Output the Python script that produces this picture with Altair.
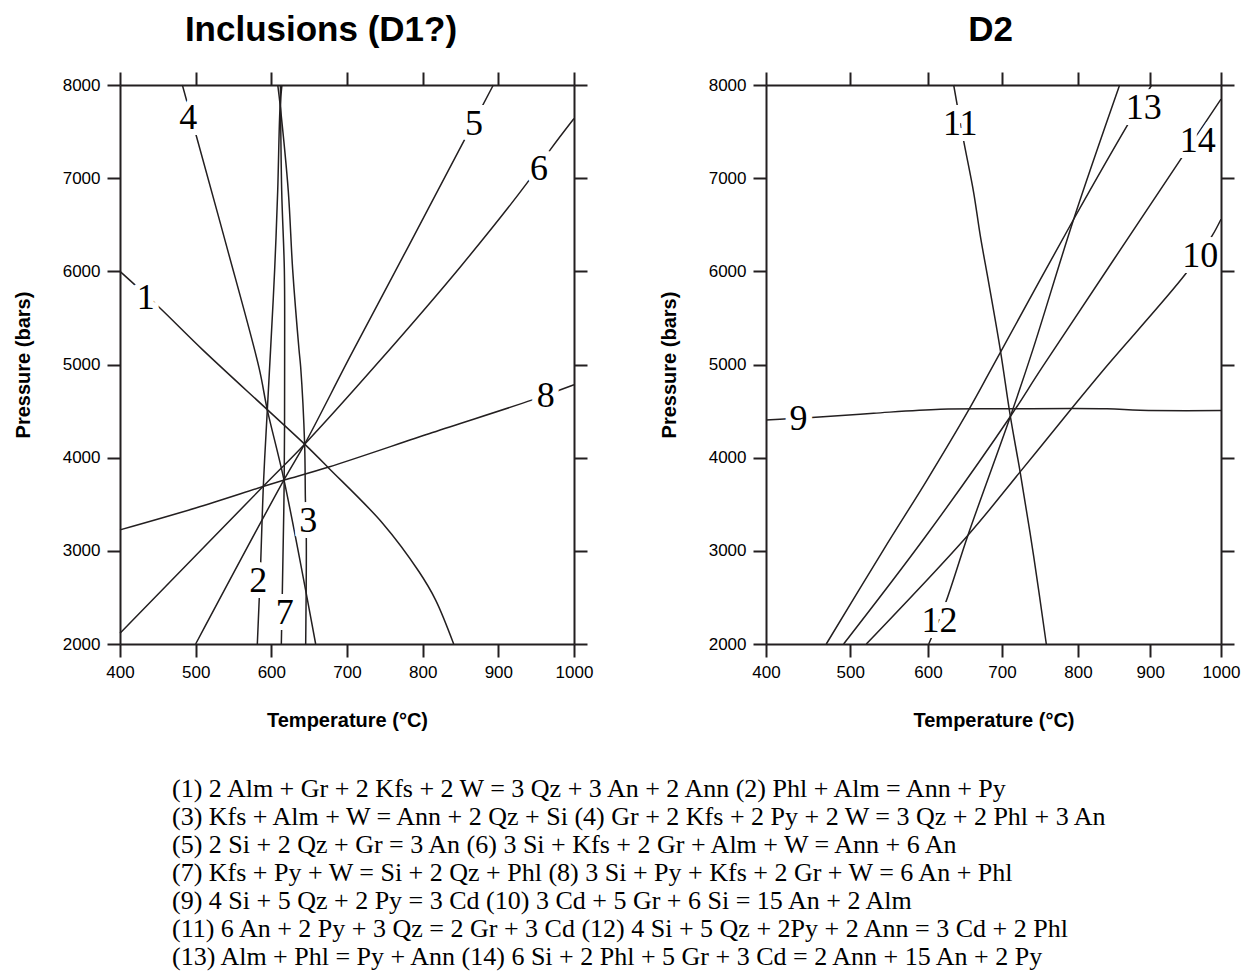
import altair as alt
import pandas as pd

SANS = "Liberation Sans"
SERIF = "Liberation Serif"
INK = "#231f20"

X_TICKS = [400, 500, 600, 700, 800, 900, 1000]
Y_TICKS = [2000, 3000, 4000, 5000, 6000, 7000, 8000]

# ---------------- Left panel: Inclusions (D1?) ----------------
L1_T = [400, 450, 509, 595, 644, 676, 747, 795, 817, 841]
L1_P = [6000, 5628, 5160, 4513, 4145, 3887, 3297, 2778, 2474, 2000]
L2_T = [581.5, 586, 589.4, 594.7, 599, 604.4, 608.4, 611.5, 614]
L2_P = [2000, 2886, 3690, 4513, 5160, 6018, 6862, 7757, 8000]
L3_T = [645.4, 646.2, 645, 644, 638.8, 636.5, 628.2, 622.4, 612, 608.5]
L3_P = [2000, 3172, 3565, 4145, 4970, 5166, 6018, 6862, 7757, 8000]
L4_T = [482.4, 500.9, 539.6, 583.7, 594.7, 616.7, 658.6]
L4_P = [8000, 7453, 6308, 4966, 4513, 3762, 2000]
L5_T = [500, 616.7, 644, 705, 780, 856.8, 893.4]
L5_P = [2000, 3762, 4145, 5100, 6250, 7435, 8000]
L6_T = [400, 589, 644, 740, 850, 938.3, 969, 1000]
L6_P = [2116, 3690, 4145, 5010, 6050, 6952, 7309, 7640]
L7_T = [613.2, 614.5, 617, 617.6, 617.2, 613.7, 612]
L7_P = [2000, 2547, 3762, 5160, 6018, 6862, 8000]
L8_T = [400, 500, 589, 617, 676, 813, 945, 1000]
L8_P = [3225, 3460, 3690, 3760, 3900, 4270, 4620, 4782]

LEFT_LAB = ["1", "2", "3", "4", "5", "6", "7", "8"]
LEFT_LAB_T = [434, 582.8, 648.9, 490.3, 867.9, 953.8, 617.6, 962.6]
LEFT_LAB_P = [5739, 2698, 3342, 7671, 7600, 7117, 2358, 4684]

# ---------------- Right panel: D2 ----------------
R9_T = [400, 454.5, 530, 616.7, 706.6, 840, 886, 1000]
R9_P = [4405, 4430, 4477, 4520, 4525, 4525, 4508, 4505]
R10_T = [520.6, 654, 724.1, 790.8, 837.8, 949.5, 987.3, 1000]
R10_P = [2000, 3168, 3850, 4520, 4966, 5968, 6380, 6559]
R11_T = [634.7, 647.3, 661.7, 670.7, 682, 697.7, 711, 724.1, 741.7, 758.3]
R11_P = [8000, 7437, 6846, 6380, 5878, 5157, 4442, 3834, 2941, 2000]
R12_T = [601, 623.4, 654, 711, 740.5, 794.3, 857.6]
R12_P = [2000, 2434, 3168, 4442, 5157, 6559, 8000]
R13_T = [471.5, 542.9, 598.7, 655, 686.5, 794.3, 874.7, 902]
R13_P = [2000, 3014, 3760, 4513, 4966, 6559, 7652, 8000]
R14_T = [492.1, 596.6, 711, 752.6, 949.5, 1000]
R14_P = [2000, 3151, 4442, 4966, 7276, 7849]

RIGHT_LAB = ["9", "10", "11", "12", "13", "14"]
RIGHT_LAB_T = [438.7, 970.7, 643.6, 615.7, 890.8, 967]
RIGHT_LAB_P = [4433, 6186, 7600, 2268, 7778, 7420]

# tick positions of the (slightly uneven) right-panel temperature axis
RIGHT_X_RANGE = [0, 84.3, 162, 236, 312, 384.3, 455]

EQUATIONS = [
    "(1) 2 Alm + Gr + 2 Kfs + 2 W = 3 Qz + 3 An + 2 Ann  (2) Phl + Alm = Ann + Py",
    "(3) Kfs + Alm + W = Ann + 2 Qz + Si  (4) Gr + 2 Kfs + 2 Py + 2 W = 3 Qz + 2 Phl + 3 An",
    "(5) 2 Si + 2 Qz + Gr = 3 An  (6) 3 Si + Kfs + 2 Gr + Alm + W = Ann + 6 An",
    "(7)  Kfs + Py + W = Si + 2 Qz + Phl  (8) 3 Si + Py + Kfs + 2 Gr + W = 6 An + Phl",
    "(9) 4 Si + 5 Qz + 2 Py = 3 Cd  (10) 3 Cd + 5 Gr + 6 Si = 15 An + 2 Alm",
    "(11) 6 An + 2 Py + 3 Qz = 2 Gr + 3 Cd  (12) 4 Si + 5 Qz + 2Py + 2 Ann = 3 Cd + 2 Phl",
    "(13) Alm + Phl = Py + Ann  (14) 6 Si + 2 Phl + 5 Gr + 3 Cd = 2 Ann + 15 An + 2 Py",
]


def curves_df(curves):
    rows = []
    for name, ts, ps in curves:
        for i, (t, p) in enumerate(zip(ts, ps)):
            rows.append({"curve": name, "i": i, "T": t, "P": p})
    return pd.DataFrame(rows)


def axis(orient, labels, title, values, title_pad=0):
    kw = dict(
        orient=orient, values=values, labels=labels, grid=False, zindex=1,
        domainColor=INK, domainWidth=2, tickColor=INK, tickWidth=2, tickSize=13,
        labelFont=SANS, labelFontSize=17, labelColor="black", labelPadding=7,
        labelFlush=False, labelOverlap=False, format="d",
        titleFont=SANS, titleFontSize=20, titleFontWeight="bold", titleColor="black",
    )
    if title:
        kw["title"] = title
        kw["titlePadding"] = title_pad
    else:
        kw["title"] = None
    return alt.Axis(**kw)


def panel(curves, lab, lab_t, lab_p, title, xscale, width, title_dx):
    df = curves_df(curves)
    ldf = pd.DataFrame({"T": lab_t, "P": lab_p, "label": lab})
    yscale = alt.Scale(domain=[2000, 8000], nice=False, zero=False)

    lines = alt.Chart(df).mark_line(
        color=INK, strokeWidth=1.5, interpolate="catmull-rom"
    ).encode(
        x=alt.X("T:Q", scale=xscale,
                axis=axis("bottom", True, "Temperature (°C)", X_TICKS, 30)),
        y=alt.Y("P:Q", scale=yscale,
                axis=axis("left", True, "Pressure  (bars)", Y_TICKS, 29)),
        detail="curve:N",
        order="i:Q",
    )
    frame = alt.Chart(df).mark_line(opacity=0).encode(
        x=alt.X("T:Q", scale=xscale, axis=axis("top", False, None, X_TICKS)),
        y=alt.Y("P:Q", scale=yscale, axis=axis("right", False, None, Y_TICKS)),
        detail="curve:N",
        order="i:Q",
    )
    enc = dict(
        x=alt.X("T:Q", scale=xscale, axis=None),
        y=alt.Y("P:Q", scale=yscale, axis=None),
        text="label:N",
    )
    halo = alt.Chart(ldf).mark_text(
        font=SERIF, fontSize=36, color="white", stroke="white", strokeWidth=12,
        align="center", baseline="middle", dy=2,
    ).encode(**enc)
    txt = alt.Chart(ldf).mark_text(
        font=SERIF, fontSize=36, color="black",
        align="center", baseline="middle", dy=2,
    ).encode(**enc)

    return alt.layer(lines, frame, halo, txt).resolve_axis(
        x="independent", y="independent"
    ).properties(
        width=width, height=559,
        title=alt.Title(title, font=SANS, fontSize=35, fontWeight="bold",
                        color="black", anchor="middle", offset=23, dx=title_dx),
    )


left = panel(
    [("1", L1_T, L1_P), ("2", L2_T, L2_P), ("3", L3_T, L3_P), ("4", L4_T, L4_P),
     ("5", L5_T, L5_P), ("6", L6_T, L6_P), ("7", L7_T, L7_P), ("8", L8_T, L8_P)],
    LEFT_LAB, LEFT_LAB_T, LEFT_LAB_P, "Inclusions (D1?)",
    alt.Scale(domain=[400, 1000], nice=False, zero=False), 454, -26,
)
right = panel(
    [("9", R9_T, R9_P), ("10", R10_T, R10_P), ("11", R11_T, R11_P),
     ("12", R12_T, R12_P), ("13", R13_T, R13_P), ("14", R14_T, R14_P)],
    RIGHT_LAB, RIGHT_LAB_T, RIGHT_LAB_P, "D2",
    alt.Scale(domain=X_TICKS, range=RIGHT_X_RANGE, nice=False, zero=False), 455, -3,
)

eq_df = pd.DataFrame({"row": list(range(len(EQUATIONS))), "text": EQUATIONS})
eqs = alt.Chart(eq_df).mark_text(
    font=SERIF, fontSize=26, color="black", align="left", baseline="middle",
).encode(
    x=alt.value(52),
    y=alt.Y("row:Q", scale=alt.Scale(domain=[-0.5, 6.5], reverse=True, nice=False, zero=False), axis=None),
    text="text:N",
).properties(width=1090, height=196)

top = alt.hconcat(left, right, spacing=66)
chart = alt.vconcat(top, eqs, spacing=45).configure(
    background="white"
).configure_view(stroke="transparent", strokeWidth=0)

chart.save("out.html", embed_options={"renderer": "svg", "actions": False})
